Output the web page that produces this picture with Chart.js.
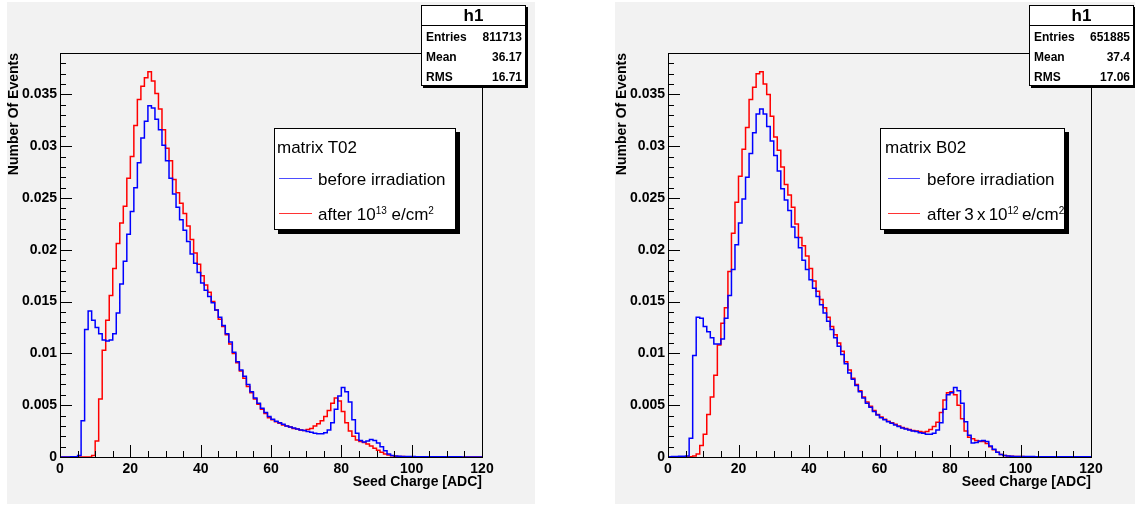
<!DOCTYPE html>
<html>
<head>
<meta charset="utf-8">
<script src="https://cdn.jsdelivr.net/npm/chart.js@4.4.0/dist/chart.umd.min.js"></script>
<style>
  body { margin: 0; width: 1135px; height: 506px; background: #fff; position: relative; overflow: hidden;
         font-family: "Liberation Sans", Arial, sans-serif; }
  .pad { position: absolute; top: 2px; height: 502px; background: #f2f2f2; }
  canvas { position: absolute; top: 0; }
  .stats { position: absolute; top: 5px; width: 105px; height: 81px; box-sizing: border-box; background: #fff;
           border: 1px solid #000; box-shadow: 2px 2px 0 #000; font-weight: bold; font-size: 12px; z-index: 2; }
  .stats .ttl { height: 19px; border-bottom: 1px solid #000; text-align: center; font-size: 17px; line-height: 20px; }
  .stats .row { position: absolute; left: 4px; right: 3px; height: 20px; line-height: 20px; }
  .stats .row span { float: right; }
  .leg { position: absolute; top: 128px; height: 102px; box-sizing: border-box; background: #fff;
         border: 1px solid #000; box-shadow: 4px 4px 0 #000; font-size: 17px; z-index: 2; }
  .leg div { position: absolute; white-space: nowrap; line-height: 20px; }
  .leg i { position: absolute; height: 0; border-top: 1px solid; }
  .leg sup { font-size: 10px; vertical-align: 6px; line-height: 0; }
</style>
</head>
<body>
<div class="pad" style="left:7px; width:528px;"></div>
<div class="pad" style="left:615px; width:520px;"></div>
<canvas id="chartT02" width="608" height="506" style="left:0"></canvas>
<canvas id="chartB02" width="527" height="506" style="left:608px"></canvas>

<div class="stats" style="left:421px">
  <div class="ttl">h1</div>
  <div class="row" style="top:21px">Entries <span>811713</span></div>
  <div class="row" style="top:41px">Mean <span>36.17</span></div>
  <div class="row" style="top:61px">RMS <span>16.71</span></div>
</div>
<div class="stats" style="left:1029px">
  <div class="ttl">h1</div>
  <div class="row" style="top:21px">Entries <span>651885</span></div>
  <div class="row" style="top:41px">Mean <span>37.4</span></div>
  <div class="row" style="top:61px">RMS <span>17.06</span></div>
</div>

<div class="leg" style="left:274px; width:182px;">
  <div style="left:2px; top:9px">matrix T02</div>
  <i style="left:4px; width:33px; top:49px; color:#4d4dff"></i>
  <div style="left:43px; top:41px">before irradiation</div>
  <i style="left:4px; width:33px; top:84px; color:#ff3333"></i>
  <div style="left:43px; top:76px">after 10<sup>13</sup> e/cm<sup>2</sup></div>
</div>
<div class="leg" style="left:880px; width:185px;">
  <div style="left:4px; top:9px">matrix B02</div>
  <i style="left:7px; width:32px; top:49px; color:#4d4dff"></i>
  <div style="left:46px; top:41px">before irradiation</div>
  <i style="left:7px; width:32px; top:84px; color:#ff3333"></i>
  <div style="left:46px; top:76px; word-spacing:-1.5px">after 3 x 10<sup>12</sup> e/cm<sup>2</sup></div>
</div>

<script>
// bin contents, one value per 1 ADC bin from 0 to 120, in units of 1e-3
const beforeT02 = [
  0, 0, 0, 0, 0.02, 0.03, 0.15, 3.5, 12.3, 14.1,
  13.2, 12.5, 11.9, 11.3, 11.2, 11.3, 11.9, 13.9, 16.7, 18.9,
  21.5, 23.7, 26.0, 28.4, 30.8, 32.4, 33.9, 33.7, 32.6, 31.6,
  30.1, 28.6, 26.9, 25.4, 24.1, 22.9, 21.9, 20.8, 19.6, 18.7,
  17.8, 16.8, 16.1, 15.5, 14.9, 14.2, 13.5, 12.7, 11.9, 11.1,
  10.1, 9.2, 8.4, 7.8, 7.0, 6.3, 5.7, 5.2, 4.7, 4.3,
  3.9, 3.65, 3.45, 3.3, 3.15, 3.0, 2.9, 2.8, 2.7, 2.6,
  2.55, 2.45, 2.4, 2.3, 2.25, 2.25, 2.35, 2.6, 3.3, 4.6,
  5.9, 6.7, 6.3, 5.3, 3.6, 2.3, 1.6, 1.45, 1.55, 1.7,
  1.6, 1.35, 1.0, 0.6, 0.3, 0.15, 0.1, 0.08, 0.06, 0.05,
  0.04, 0.04, 0.035, 0.03, 0.03, 0.03, 0.025, 0.025, 0.02, 0.02,
  0.02, 0.02, 0.015, 0.015, 0.015, 0.01, 0.01, 0.01, 0.01, 0.01
];
const afterT02 = [
  0, 0, 0, 0, 0, 0, 0, 0, 0, 0,
  0.15, 1.55, 5.6, 10.3, 13.2, 15.6, 18.2, 20.6, 22.6, 24.2,
  26.9, 29.0, 32.0, 34.5, 35.8, 36.6, 37.2, 36.3, 35.1, 33.6,
  31.6, 29.8, 28.6, 26.8, 25.5, 24.5, 23.5, 22.3, 21.0, 19.7,
  18.6, 17.5, 16.6, 15.9, 15.0, 14.2, 13.3, 12.6, 11.8, 10.9,
  10.0, 9.1, 8.3, 7.6, 6.8, 6.2, 5.6, 5.1, 4.6, 4.2,
  3.8, 3.6, 3.4, 3.25, 3.1, 3.0, 2.9, 2.75, 2.7, 2.6,
  2.55, 2.65, 2.75, 3.0, 3.2, 3.5, 3.9, 4.5, 5.2, 5.7,
  5.4, 4.4, 3.3, 2.5, 2.0, 1.65, 1.5, 1.4, 1.25, 1.05,
  0.85, 0.65, 0.45, 0.3, 0.2, 0.12, 0.08, 0.05, 0.04, 0.03,
  0.03, 0.02, 0.02, 0.02, 0.02, 0.015, 0.015, 0.015, 0.01, 0.01,
  0.01, 0.01, 0.01, 0.01, 0.01, 0.01, 0.01, 0.01, 0.01, 0.01
];
const beforeB02 = [
  0.03, 0.03, 0.04, 0.05, 0.07, 0.08, 0.1, 1.8, 9.8, 13.5,
  13.4, 12.6, 12.1, 11.5, 10.9, 10.9, 11.4, 13.4, 15.6, 18.1,
  20.5, 22.6, 24.9, 27.0, 29.3, 31.3, 33.1, 33.6, 33.1, 31.9,
  30.5, 29.1, 27.6, 25.9, 24.8, 23.8, 22.2, 21.2, 20.2, 19.0,
  18.1, 17.1, 16.3, 15.5, 14.7, 13.9, 13.1, 12.3, 11.5, 10.7,
  9.9, 9.0, 8.1, 7.5, 6.9, 6.3, 5.7, 5.2, 4.8, 4.4,
  4.05, 3.8, 3.6, 3.4, 3.25, 3.1, 2.95, 2.8, 2.7, 2.6,
  2.5, 2.45, 2.35, 2.3, 2.2, 2.2, 2.3, 2.6, 3.3, 4.6,
  6.0, 6.2, 6.7, 6.4, 5.2, 3.4, 2.1, 1.35, 1.4, 1.55,
  1.6, 1.5, 1.05, 0.75, 0.45, 0.25, 0.15, 0.1, 0.08, 0.06,
  0.05, 0.05, 0.045, 0.04, 0.04, 0.035, 0.035, 0.03, 0.03, 0.03,
  0.025, 0.025, 0.025, 0.02, 0.02, 0.02, 0.02, 0.02, 0.02, 0.02
];
const afterB02 = [
  0, 0, 0, 0, 0, 0, 0, 0.03, 0.1, 0.3,
  1.1, 2.2, 4.1, 5.8, 7.9, 10.8, 12.9, 14.4, 17.9, 21.6,
  24.6, 27.1, 29.7, 31.8, 34.5, 35.7, 37.0, 37.2, 36.0, 35.0,
  32.9, 30.9, 29.6, 28.0, 26.3, 25.3, 24.1, 22.5, 21.2, 20.4,
  19.4, 18.2, 17.0, 16.0, 15.2, 14.4, 13.5, 12.6, 11.8, 11.0,
  10.2, 9.2, 8.4, 7.6, 7.0, 6.4, 5.8, 5.3, 4.9, 4.5,
  4.1, 3.85, 3.65, 3.45, 3.3, 3.15, 3.0, 2.85, 2.75, 2.65,
  2.55, 2.5, 2.45, 2.4, 2.45, 2.65, 2.95, 3.35, 4.3, 5.5,
  6.2, 6.3, 6.0, 5.0, 3.7, 2.5, 1.9, 1.75, 1.6, 1.5,
  1.5, 1.3, 1.0, 0.7, 0.45, 0.25, 0.15, 0.1, 0.07, 0.05,
  0.04, 0.04, 0.03, 0.03, 0.03, 0.025, 0.025, 0.02, 0.02, 0.02,
  0.015, 0.015, 0.015, 0.01, 0.01, 0.01, 0.01, 0.01, 0.01, 0.01
];
const xMax = 120;
const yMax = 0.039;

Chart.defaults.font.family = '"Liberation Sans", Arial, sans-serif';
Chart.defaults.color = '#000';

// bins -> points on the bin edges, drawn as steps
function toSteps(bins) {
  const pts = bins.map((v, i) => ({ x: i, y: v / 1000 }));
  pts.push({ x: bins.length, y: bins[bins.length - 1] / 1000 });
  return pts;
}

// ROOT style frame with ticks pointing inward
const rootFrame = {
  id: 'rootFrame',
  afterDatasetsDraw(chart) {
    const { ctx, chartArea: a, scales: { x, y } } = chart;
    ctx.save();
    ctx.strokeStyle = '#000';
    ctx.lineWidth = 1;
    ctx.beginPath();
    x.ticks.forEach(t => {
      const px = Math.round(x.getPixelForValue(t.value)) + 0.5;
      const len = t.value % 20 === 0 ? 12 : 6;
      ctx.moveTo(px, a.bottom);
      ctx.lineTo(px, a.bottom - len);
    });
    y.ticks.forEach(t => {
      const py = Math.round(y.getPixelForValue(t.value)) + 0.5;
      const len = Math.round(t.value * 1000) % 5 === 0 ? 12 : 6;
      ctx.moveTo(a.left, py);
      ctx.lineTo(a.left + len, py);
    });
    ctx.stroke();
    ctx.strokeRect(Math.round(a.left) + 0.5, Math.round(a.top) + 0.5,
                   Math.round(a.width), Math.round(a.bottom) - Math.round(a.top));
    ctx.restore();
  }
};

function makeChart(id, before, after, padRight) {
  const tickFont = { size: 14, weight: 'bold' };
  return new Chart(document.getElementById(id), {
    type: 'line',
    data: {
      datasets: [
        {
          label: 'before irradiation',
          data: toSteps(before),
          borderColor: '#0000ff',
          borderWidth: 1.5,
          stepped: 'after',
          pointRadius: 0,
          fill: false
        },
        {
          label: 'after',
          data: toSteps(after),
          borderColor: '#ff0000',
          borderWidth: 1.5,
          stepped: 'after',
          pointRadius: 0,
          fill: false
        }
      ]
    },
    options: {
      responsive: false,
      animation: false,
      layout: { padding: { left: 0, top: 53, right: padRight, bottom: 0 } },
      plugins: { legend: { display: false }, tooltip: { enabled: false } },
      scales: {
        x: {
          type: 'linear',
          min: 0,
          max: xMax,
          grid: { display: false, drawTicks: false },
          border: { display: false },
          ticks: {
            stepSize: 5,
            autoSkip: false,
            maxRotation: 0,
            includeBounds: false,
            padding: 4,
            font: tickFont,
            callback: v => (v % 20 === 0 ? String(v) : '')
          },
          title: {
            display: true,
            text: 'Seed Charge [ADC]',
            align: 'end',
            font: tickFont,
            padding: { top: 0, bottom: 15 }
          },
          afterFit: s => { s.height = 49; }
        },
        y: {
          min: 0,
          max: yMax,
          grid: { display: false, drawTicks: false },
          border: { display: false },
          ticks: {
            stepSize: 0.001,
            autoSkip: false,
            includeBounds: false,
            padding: 3,
            font: tickFont,
            callback: v => {
              const m = Math.round(v * 1000);
              return m % 5 === 0 ? String(m / 1000) : '';
            }
          },
          title: {
            display: true,
            text: 'Number Of Events',
            align: 'end',
            font: tickFont,
            padding: { top: 6, bottom: 0 }
          },
          afterFit: s => { s.width = 60; }
        }
      }
    },
    plugins: [rootFrame]
  });
}

makeChart('chartT02', beforeT02, afterT02, 126);
makeChart('chartB02', beforeB02, afterB02, 44);
</script>
</body>
</html>
